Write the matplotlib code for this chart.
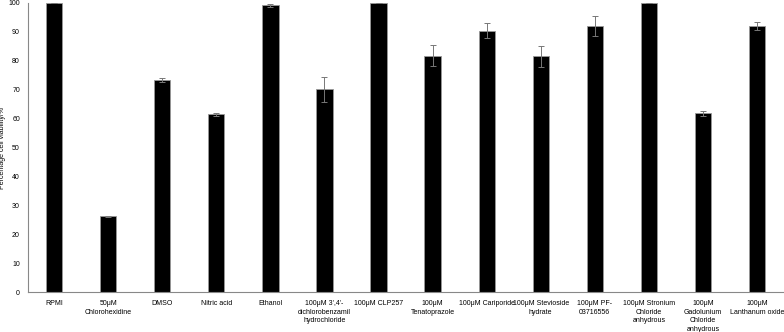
import matplotlib
matplotlib.use("Agg")
import matplotlib.pyplot as plt
import numpy as np

plt.rcParams['font.family'] = ['Liberation Sans', 'DejaVu Sans']

# treatments and viability (%)
labels = ["RPMI", "50μM\nChlorohexidine", "DMSO", "Nitric acid", "Ethanol",
          "100μM 3',4'-\ndichlorobenzamil\nhydrochloride", "100μM CLP257",
          "100μM\nTenatoprazole", "100μM Cariporide", "100μM Stevioside\nhydrate",
          "100μM PF-\n03716556", "100μM Stronium\nChloride\nanhydrous",
          "100μM\nGadolunium\nChloride\nanhydrous", "100μM\nLanthanum oxide"]
viability = [100, 26.3, 73.4, 61.5, 99.2, 70.1, 100, 81.8, 90.4, 81.6, 92.1, 100, 61.8, 92.1]
errors = [0, 0.2, 0.6, 0.5, 0.5, 4.2, 0, 3.7, 2.6, 3.6, 3.5, 0, 1.0, 1.4]

fig = plt.figure(figsize=(7.84, 3.32), dpi=100)
ax = fig.add_axes([0.036, 0.12, 0.964, 0.871])

x = np.arange(len(labels))
ax.bar(x, viability, width=0.3, color='black', edgecolor='#999999', linewidth=0.6)
ax.errorbar(x, viability, yerr=errors, fmt='none', ecolor='#777777',
            elinewidth=0.7, capsize=2, capthick=0.7)

ax.set_xlim(-0.48, 13.5)
ax.set_ylim(0, 100)
ax.set_yticks(range(0, 101, 10))
ax.set_xticks(x)
ax.set_xticklabels(labels, fontsize=5.0, linespacing=1.3)
ax.tick_params(axis='y', labelsize=5.0, length=0, pad=6)
ax.tick_params(axis='x', length=0, pad=6)
ax.set_ylabel("Percentage cell viability/%", fontsize=5.0, labelpad=2)
ax.yaxis.set_label_coords(-0.03, 0.5)

for s in ['top', 'right']:
    ax.spines[s].set_visible(False)
for s in ['left', 'bottom']:
    ax.spines[s].set_color('#888888')
    ax.spines[s].set_linewidth(0.8)

fig.savefig("out.png", dpi=100)
